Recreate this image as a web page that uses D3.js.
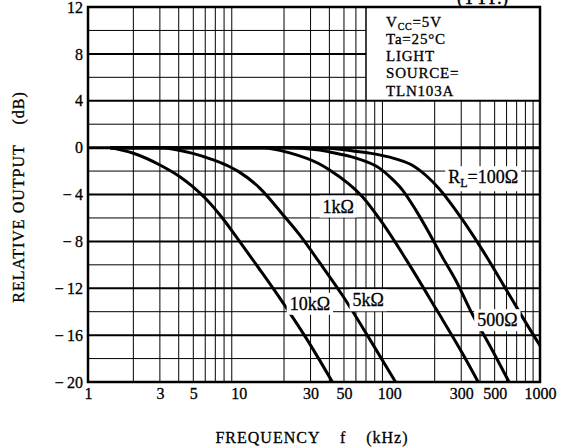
<!DOCTYPE html>
<html>
<head>
<meta charset="utf-8">
<script src="https://cdn.jsdelivr.net/npm/d3@7"></script>
<style>
body { margin: 0; background: #fff; }
text { font-family: "Liberation Serif", "Times New Roman", serif; fill: #000; stroke: #000; stroke-width: 0.3px; }
</style>
</head>
<body>
<svg id="chart" width="567" height="448"></svg>
<script>
// curves: [frequency kHz, relative output dB]
var rl10k = [[1.4, 0], [2.0, -0.48], [3.0, -1.48], [4.07, -2.48], [4.96, -3.33], [6.14, -4.45], [7.84, -6.05], [10, -7.9], [13.8, -10.4], [19.6, -13.2], [28.2, -16.3], [41.9, -20]];
var rl5k = [[1.4, 0], [3.0, 0], [4.96, -0.49], [6.62, -1.0], [8.72, -1.63], [10, -2.05], [13.8, -3.45], [19.6, -5.7], [25.4, -7.45], [34.4, -9.8], [48.8, -12.6], [73.7, -16.3], [110, -20]];
var rl1k = [[1.4, 0], [14.4, 0], [21.8, -0.45], [34.4, -1.4], [40.1, -1.91], [66.3, -4.2], [89.9, -6.43], [130, -9.6], [205, -13.8], [304, -17.5], [389, -20]];
var rl500 = [[1.4, 0], [20.2, 0], [34.4, -0.2], [40.1, -0.37], [58.6, -0.85], [85.9, -1.75], [103, -2.6], [122, -3.6], [151, -5.4], [184, -7.3], [224, -9.3], [278, -11.4], [355, -14.2], [460, -16.8], [623, -20]];
var rl100 = [[1.4, 0], [25.4, 0], [40.1, -0.05], [58.6, -0.3], [85.9, -0.62], [113, -1.0], [142, -1.5], [176, -2.4], [214, -3.5], [304, -6.1], [413, -8.7], [596, -12.1], [760, -14.4], [1000, -16.9]];

var xTicks = [1, 3, 5, 10, 30, 50, 100, 300, 500, 1000];
var yTicks = [12, 8, 4, 0, -4, -8, -12, -16, -20];

// curve labels: name, subscript, rest, anchor frequency (kHz), dB
var labelNames = ["R", "", "", "", ""];
var labelSubs = ["L", "", "", "", ""];
var labelRest = ["=100Ω", "1kΩ", "10kΩ", "5kΩ", "500Ω"];
var labelF = [246, 36, 21.8, 57, 383];
var labelDb = [-2.5, -5.0, -13.3, -13.0, -14.7];

var conditions = ["Ta=25°C", "LIGHT", "SOURCE=", "TLN103A"];

var margin = { top: 7, right: 27, bottom: 66, left: 88 },
    width = 567 - margin.left - margin.right,
    height = 448 - margin.top - margin.bottom;

var svg = d3.select("#chart");
var g = svg.append("g").attr("transform", `translate(${margin.left},${margin.top})`);

var x = d3.scaleLog().domain([1, 1000]).range([0, width]);
var y = d3.scaleLinear().domain([-20, 12]).range([height, 0]);

// box with the test conditions sits from 70 kHz up, above 4 dB
var boxF = 70, boxDb = 4;

// Vertical grid
var vlines = [];
[1, 10, 100].forEach(function (d) {
    for (let k = 2; k <= 9; k++) vlines.push(d * k);
});
vlines.forEach(function (f) {
    g.append("line")
        .attr("x1", x(f)).attr("x2", x(f))
        .attr("y1", f > boxF ? y(boxDb) : 0).attr("y2", height)
        .attr("stroke", "#000")
        .attr("stroke-width", (f == 10 || f == 100) ? 2 : 1);
});

// Horizontal grid every 2 dB
for (let v = -18; v <= 10; v += 2) {
    g.append("line")
        .attr("x1", 0).attr("x2", v > boxDb ? x(boxF) : width)
        .attr("y1", y(v)).attr("y2", y(v))
        .attr("stroke", "#000")
        .attr("stroke-width", v == 0 ? 3 : (v % 4 == 0 ? 2 : 1));
}

// Label backgrounds + text
var labels = g.append("g");
labelRest.forEach(function (t, i) {
    var lg = labels.append("g");
    var txt = lg.append("text")
        .attr("x", x(labelF[i]))
        .attr("y", y(labelDb[i]))
        .attr("dy", "0.35em")
        .style("font-size", "18px");
    if (labelNames[i]) {
        txt.append("tspan").text(labelNames[i]);
        txt.append("tspan").attr("dy", 4).style("font-size", "12px").text(labelSubs[i]);
        txt.append("tspan").attr("dy", -4).text(t);
    } else {
        txt.text(t);
    }
    var bb = txt.node().getBBox();
    lg.insert("rect", "text")
        .attr("x", bb.x - 3).attr("y", bb.y - 1)
        .attr("width", bb.width + 6).attr("height", bb.height + 2)
        .attr("fill", "#fff")
        .style("stroke", "none");
});

// Curves
var line = d3.line()
    .x(function (d) { return x(d[0]); })
    .y(function (d) { return y(d[1]); })
    .curve(d3.curveMonotoneX);

[rl10k, rl5k, rl1k, rl500, rl100].forEach(function (c) {
    g.append("path")
        .datum(c)
        .attr("d", line)
        .attr("fill", "none")
        .attr("stroke", "#000")
        .attr("stroke-width", 3);
});

labels.raise();

// Frame and condition box
g.append("rect")
    .attr("width", width).attr("height", height)
    .attr("fill", "none").attr("stroke", "#000").attr("stroke-width", 2.5);

g.append("line")
    .attr("x1", x(boxF)).attr("x2", x(boxF))
    .attr("y1", 0).attr("y2", y(boxDb))
    .attr("stroke", "#000").attr("stroke-width", 1);

var lineGap = 17.3;
var cond = g.append("text")
    .attr("x", x(boxF) + 20)
    .attr("y", 19.5)
    .style("font-size", "15px")
    .style("letter-spacing", "0.8px");
cond.append("tspan").text("V");
cond.append("tspan").attr("dy", 3).style("font-size", "10px").text("CC");
cond.append("tspan").attr("dy", -3).text("=5V");
conditions.forEach(function (t, i) {
    g.append("text")
        .attr("x", x(boxF) + 20)
        .attr("y", 19.5 + lineGap * (i + 1))
        .style("font-size", "15px")
        .style("letter-spacing", "0.8px")
        .text(t);
});

// (TYP.) cut off at the top edge
svg.append("text")
    .attr("x", 457).attr("y", 4)
    .style("font-size", "19px")
    .text("(TYP.)");

// Axes
var xAxis = g.append("g")
    .attr("transform", `translate(0,${height})`)
    .call(d3.axisBottom(x).tickValues(xTicks).tickFormat(d3.format("d")).tickSize(0).tickPadding(6));
xAxis.select(".domain").remove();
xAxis.selectAll("text").style("font-size", "16px").style("font-family", "Liberation Serif");

var yAxis = g.append("g")
    .call(d3.axisLeft(y).tickValues(yTicks)
        .tickFormat(function (d) { return d < 0 ? "−\u2009" + Math.abs(d) : d; })
        .tickSize(0).tickPadding(5));
yAxis.select(".domain").remove();
yAxis.selectAll("text").style("font-size", "16px").style("font-family", "Liberation Serif");

// X axis label
svg.append("text")
    .attr("x", 312).attr("y", 443)
    .attr("text-anchor", "middle")
    .style("font-size", "16px")
    .style("white-space", "pre")
    .style("letter-spacing", "1px")
    .text("FREQUENCY    f    (kHz)");

// Y axis label
svg.append("text")
    .attr("transform", "translate(24,197) rotate(-90)")
    .attr("text-anchor", "middle")
    .style("font-size", "16px")
    .style("white-space", "pre")
    .style("letter-spacing", "1px")
    .text("RELATIVE OUTPUT    (dB)");
</script>
</body>
</html>
